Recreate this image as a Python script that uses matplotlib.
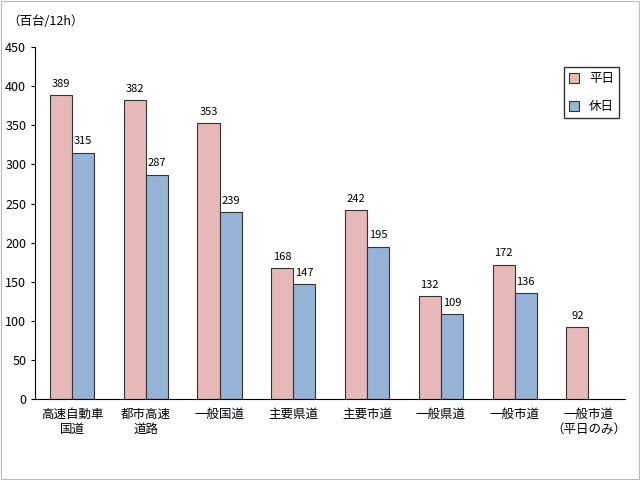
import numpy as np
import matplotlib.pyplot as plt

plt.rcParams['font.family'] = ['Noto Sans CJK JP', 'DejaVu Sans']

categories = ["高速自動車\n国道", "都市高速\n道路", "一般国道", "主要県道",
              "主要市道", "一般県道", "一般市道", "一般市道\n（平日のみ）"]
weekday = [389, 382, 353, 168, 242, 132, 172, 92]
holiday = [315, 287, 239, 147, 195, 109, 136, None]

fig = plt.figure(figsize=(6.4, 4.8), dpi=100)
ax = fig.add_axes([0.055, 0.168, 0.922, 0.734])

x = np.arange(len(categories))
w = 0.3
pink, blue = "#E6B9B8", "#95B3D7"
for i, (a, b) in enumerate(zip(weekday, holiday)):
    ax.bar(x[i] - w / 2, a, w, color=pink, edgecolor="#333333", linewidth=0.8,
           label="平日" if i == 0 else None)
    ax.text(x[i] - w / 2, a + 8, str(a), ha="center", va="bottom", fontsize=8)
    if b is not None:
        ax.bar(x[i] + w / 2, b, w, color=blue, edgecolor="#333333", linewidth=0.8,
               label="休日" if i == 0 else None)
        ax.text(x[i] + w / 2, b + 8, str(b), ha="center", va="bottom", fontsize=8)

ax.set_xlim(-0.5, len(categories) - 0.5)
ax.set_ylim(0, 450)
ax.set_yticks(range(0, 451, 50))
ax.set_xticks(x)
ax.set_xticklabels(categories, fontsize=9)
ax.tick_params(axis="y", labelsize=9, length=3)
ax.tick_params(axis="x", length=0, pad=6)
for s in ["top", "right"]:
    ax.spines[s].set_visible(False)

leg = ax.legend(loc="upper right", bbox_to_anchor=(1.0, 0.96), fontsize=9,
                frameon=True, fancybox=False, edgecolor="black",
                handlelength=0.8, handleheight=0.8, labelspacing=1.2)

fig.text(0.012, 0.955, "（百台/12h）", fontsize=9, va="center")
fig.patches.append(plt.Rectangle((0.002, 0.002), 0.996, 0.996, transform=fig.transFigure,
                                 fill=False, edgecolor="#bbbbbb", linewidth=0.8))

fig.savefig("out.png", dpi=100)
